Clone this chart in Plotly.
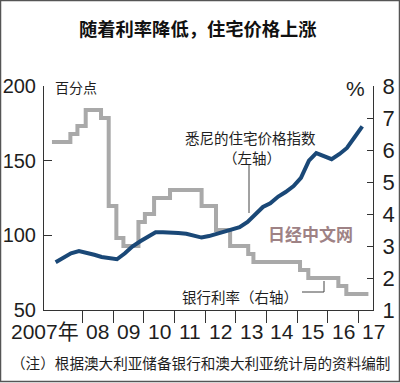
import plotly.graph_objects as go

# ---------------- data ----------------
price_x = [2007.12, 2007.38, 2007.62, 2007.88, 2008.12, 2008.38, 2008.62, 2008.88,
           2009.12, 2009.38, 2009.62, 2009.88, 2010.12, 2010.38, 2010.62, 2010.88,
           2011.12, 2011.38, 2011.62, 2011.88, 2012.12, 2012.38, 2012.62, 2012.88,
           2013.12, 2013.38, 2013.62, 2013.88, 2014.12, 2014.38, 2014.62, 2014.88,
           2015.12, 2015.38, 2015.62, 2015.88, 2016.12, 2016.38, 2016.62, 2016.88,
           2017.12]
price_index = [82, 85.5, 88, 89.5, 88.5, 87, 85.5, 84.5,
               84, 88, 92.5, 96, 99, 102, 102, 102,
               101.5, 101, 100, 98.5, 99.5, 101, 102, 103.5,
               105.5, 109, 113.5, 119, 121.5, 126, 129, 133,
               138.5, 150, 155, 153, 151, 154.5, 158.5, 166,
               173]

rate_x = [2007.0, 2007.6, 2007.83, 2008.1, 2008.6, 2008.85, 2009.1, 2009.33,
          2009.82, 2010.03, 2010.33, 2010.85, 2011.88, 2012.35, 2012.81, 2013.4,
          2013.57, 2015.09, 2015.36, 2016.34, 2016.6, 2017.32]
cash_rate = [6.25, 6.5, 6.75, 7.25, 7.0, 4.25, 3.25, 3.0,
             3.75, 4.0, 4.5, 4.75, 4.25, 3.5, 3.0, 2.75,
             2.5, 2.25, 2.0, 1.75, 1.5, 1.5]

year_ticks = [2008, 2009, 2010, 2011, 2012, 2013, 2014, 2015, 2016, 2017]
year_label_pos = [2007.5, 2008.5, 2009.5, 2010.5, 2011.5, 2012.5, 2013.5,
                  2014.5, 2015.5, 2016.5, 2017.5]
year_labels = ["2007年", "08", "09", "10", "11", "12", "13", "14", "15", "16", "17"]

left_ticks = [50, 100, 150, 200]
right_ticks = [1, 2, 3, 4, 5, 6, 7, 8]

# ---------------- layout geometry ----------------
W, H = 400, 383
L, R, T, B = 44, 27, 86, 73
PW, PH = W - L - R, H - T - B
X0, X1 = 2006.74, 2017.47


def px(x):
    return (x - L) / PW


def py(y):
    return (H - B - y) / PH


def xyear(v):
    return (v - X0) / (X1 - X0)


NUM = "Liberation Sans, Arial, sans-serif"
CJK = "Noto Sans CJK SC, sans-serif"
INK = "#1e1e1e"
NUM_SIZE = 21

fig = go.Figure()
fig.add_trace(go.Scatter(x=rate_x, y=cash_rate, mode="lines", line_shape="hv",
                         line=dict(color="#a9a9a9", width=4), yaxis="y",
                         hoverinfo="skip"))
fig.add_trace(go.Scatter(x=price_x, y=price_index, mode="lines",
                         line=dict(color="#1a4877", width=4), yaxis="y2",
                         hoverinfo="skip"))

fig.update_layout(
    width=W, height=H, showlegend=False,
    margin=dict(l=L, r=R, t=T, b=B, pad=0, autoexpand=False),
    paper_bgcolor="white", plot_bgcolor="white",
    xaxis=dict(range=[X0, X1], tickvals=year_ticks, ticktext=[""] * len(year_ticks),
               ticks="outside", ticklen=12, tickcolor="#333", tickwidth=1,
               showline=True, linecolor="#333", linewidth=1, showgrid=False,
               zeroline=False, fixedrange=True, automargin=False),
    yaxis=dict(side="right", range=[1, 8], tickvals=right_ticks,
               ticks="inside", ticklen=6, tickcolor="#333", showline=True,
               linecolor="#333", linewidth=1, showgrid=False, zeroline=False,
               tickfont=dict(family=NUM, size=NUM_SIZE + 1, color=INK),
               ticklabelstandoff=4, automargin=False),
    yaxis2=dict(side="left", overlaying="y", range=[50, 200], tickvals=left_ticks,
                ticks="inside", ticklen=8, tickcolor="#333", showline=True,
                linecolor="#333", linewidth=1, showgrid=False, zeroline=False,
                tickfont=dict(family=NUM, size=20, color=INK),
                ticklabelstandoff=3, automargin=False),
)

ann = []
# x tick labels
for pos, lab in zip(year_label_pos, year_labels):
    if lab.endswith("年"):
        ann.append(dict(x=px(81), xref="paper", y=py(331), yref="paper", text=lab,
                        showarrow=False, xanchor="right", yanchor="middle",
                        font=dict(family=NUM + ", " + CJK, size=NUM_SIZE, color=INK)))
    else:
        ann.append(dict(x=xyear(pos), xref="paper", y=py(331), yref="paper", text=lab,
                        showarrow=False, xanchor="center", yanchor="middle",
                        font=dict(family=NUM, size=NUM_SIZE, color=INK)))

# title
ann.append(dict(x=px(198), y=py(28), xref="paper", yref="paper",
                text="<b>随着利率降低，住宅价格上涨</b>", showarrow=False,
                xanchor="center", yanchor="middle",
                font=dict(family=CJK, size=18.3, color="#111")))
# axis units
ann.append(dict(x=px(53), y=py(87), xref="paper", yref="paper", text="百分点",
                showarrow=False, xanchor="left", yanchor="middle",
                font=dict(family=CJK, size=14, color=INK)))
ann.append(dict(x=px(355), y=py(89), xref="paper", yref="paper", text="%",
                showarrow=False, xanchor="center", yanchor="middle",
                font=dict(family=NUM, size=21, color=INK)))
# series labels
ann.append(dict(x=px(250), y=py(137), xref="paper", yref="paper", text="悉尼的住宅价格指数",
                showarrow=False, xanchor="center", yanchor="middle",
                font=dict(family=CJK, size=14.5, color=INK)))
ann.append(dict(x=px(252), y=py(157), xref="paper", yref="paper", text="（左轴）",
                showarrow=False, xanchor="center", yanchor="middle",
                font=dict(family=CJK, size=14.5, color=INK)))
ann.append(dict(x=px(300), y=py(296), xref="paper", yref="paper", text="银行利率（右轴）",
                showarrow=False, xanchor="right", yanchor="middle",
                font=dict(family=CJK, size=14.5, color=INK)))
# watermark
ann.append(dict(x=px(310), y=py(233), xref="paper", yref="paper", text="<b>日经中文网</b>",
                showarrow=False, xanchor="center", yanchor="middle",
                font=dict(family=CJK, size=17, color="#9e8285")))
# note
ann.append(dict(x=px(392), y=py(362), xref="paper", yref="paper",
                text="（注）根据澳大利亚储备银行和澳大利亚统计局的资料编制",
                showarrow=False, xanchor="right", yanchor="middle",
                font=dict(family=CJK, size=14.6, color=INK)))
fig.update_layout(annotations=ann)

shapes = [
    # leader for price label
    dict(type="line", xref="paper", yref="paper", x0=px(249), x1=px(249),
         y0=py(165), y1=py(213), line=dict(color="#444", width=1)),
    # leader for rate label
    dict(type="line", xref="paper", yref="paper", x0=px(302), x1=px(324),
         y0=py(292), y1=py(292), line=dict(color="#444", width=1)),
    dict(type="line", xref="paper", yref="paper", x0=px(324), x1=px(324),
         y0=py(292), y1=py(281), line=dict(color="#444", width=1)),
    # image border
    dict(type="rect", xref="paper", yref="paper", x0=px(0.5), x1=px(399.5),
         y0=py(0.5), y1=py(381.5), line=dict(color="#555", width=1.5)),
]
fig.update_layout(shapes=shapes)

fig.write_html("out.html", config={"displayModeBar": False},
               post_script="document.body.style.margin='0';document.body.style.overflow='hidden';")
